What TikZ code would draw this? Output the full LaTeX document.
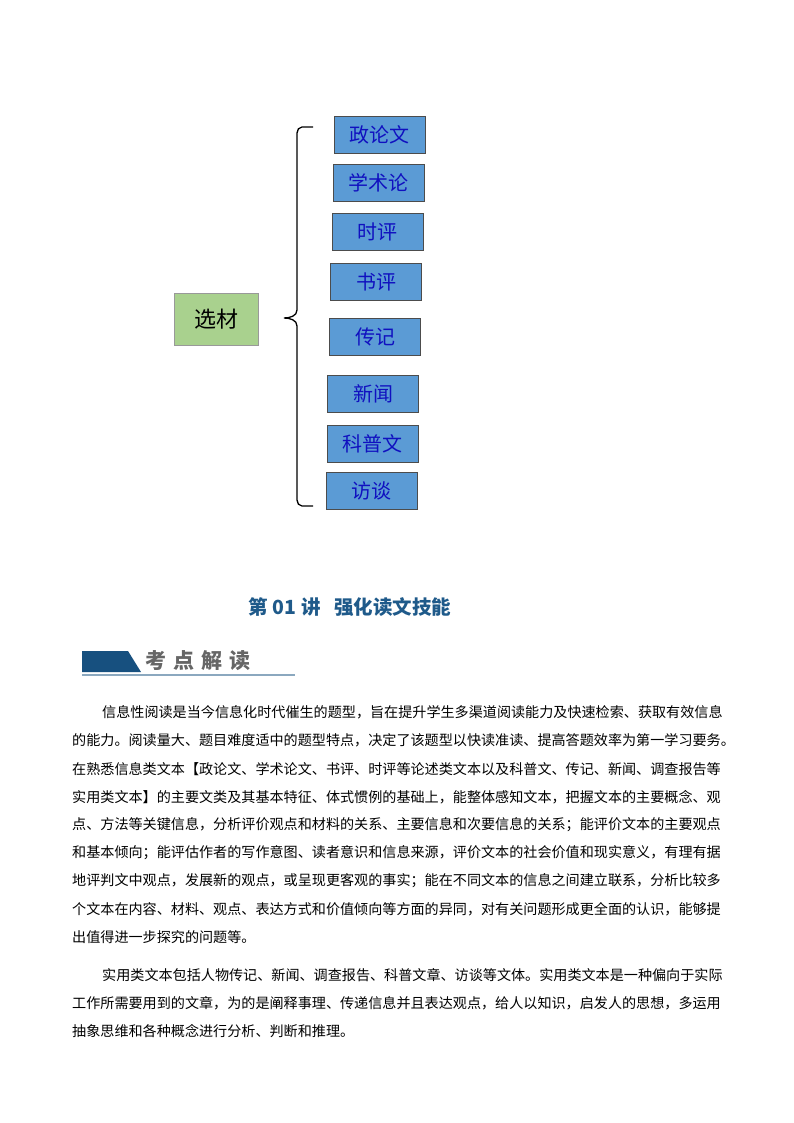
\documentclass[tikz,border=0pt]{standalone}
\usepackage{fontspec}
\newfontfamily\cjk{Noto Sans CJK SC}
\definecolor{boxblue}{HTML}{5B9BD5}
\definecolor{boxtext}{HTML}{1010C0}
\definecolor{greenbox}{HTML}{A9D18E}
\definecolor{titleblue}{HTML}{1F5A8A}
\definecolor{bannerblue}{HTML}{17507F}
\tikzset{
  cat/.style={draw=black!70, fill=boxblue, minimum width=91pt, minimum height=37pt, inner sep=0pt, font=\cjk\fontsize{20}{20}\selectfont, text=boxtext},
  body/.style={anchor=west, inner sep=0pt, font=\cjk\fontsize{14.1}{14}\selectfont}
}
\begin{document}
\begin{tikzpicture}[x=1pt,y=-1pt]
\useasboundingbox (0,0) rectangle (794,1123);
\node[draw=black!40, fill=greenbox, minimum width=84pt, minimum height=52pt, inner sep=0pt, font=\cjk\fontsize{22}{22}\selectfont] (xc) at (216,319) {选材};
\node[cat] (c1) at (379.5,134.5) {政论文};
\node[cat] (c2) at (378.5,182.5) {学术论};
\node[cat] (c3) at (377.5,231.5) {时评};
\node[cat] (c4) at (376,281.5) {书评};
\node[cat] (c5) at (375,336.5) {传记};
\node[cat] (c6) at (373,393.5) {新闻};
\node[cat] (c7) at (372.5,443.5) {科普文};
\node[cat] (c8) at (371.5,491) {访谈};
\coordinate (bt) at (313,127);
\coordinate (bb) at (313,506);
\coordinate (bm) at (284,318);
\draw[line width=1.3pt] (bt) -- (302,127) to[out=180,in=90] (297,133) -- (297,310) to[out=-90,in=0] (bm) to[out=0,in=90] (297,326) -- (297,500) to[out=-90,in=180] (302,506) -- (bb);
\node[font=\cjk\bfseries\fontsize{19.5}{20}\selectfont, text=titleblue] (title) at (350,607) {第\ 01\ 讲\ \ \ 强化读文技能};
\fill[bannerblue] (82,651) -- (128,651) -- (141,672) -- (82,672) -- cycle;
\draw[line width=1.5pt, bannerblue!50] (82,675) -- (295,675);
\node[anchor=west, inner sep=0pt, text=gray!80!black, font=\cjk\bfseries\fontsize{21}{21}\selectfont] (kd) at (145,661) {考\,\,点\,\,解\,\,读};
\node[body] (l1) at (102,712) {信息性阅读是当今信息化时代催生的题型，旨在提升学生多渠道阅读能力及快速检索、获取有效信息};
\node[body] (l2) at (72,740) {的能力。阅读量大、题目难度适中的题型特点，决定了该题型以快读准读、提高答题效率为第一学习要务。};
\node[body] (l3) at (72,769) {在熟悉信息类文本【政论文、学术论文、书评、时评等论述类文本以及科普文、传记、新闻、调查报告等};
\node[body] (l4) at (72,797) {实用类文本】的主要文类及其基本特征、体式惯例的基础上，能整体感知文本，把握文本的主要概念、观};
\node[body] (l5) at (72,825) {点、方法等关键信息，分析评价观点和材料的关系、主要信息和次要信息的关系；能评价文本的主要观点};
\node[body] (l6) at (72,853) {和基本倾向；能评估作者的写作意图、读者意识和信息来源，评价文本的社会价值和现实意义，有理有据};
\node[body] (l7) at (72,881) {地评判文中观点，发展新的观点，或呈现更客观的事实；能在不同文本的信息之间建立联系，分析比较多};
\node[body] (l8) at (72,909) {个文本在内容、材料、观点、表达方式和价值倾向等方面的异同，对有关问题形成更全面的认识，能够提};
\node[body] (l9) at (72,937) {出值得进一步探究的问题等。};
\node[body] (m1) at (102,975) {实用类文本包括人物传记、新闻、调查报告、科普文章、访谈等文体。实用类文本是一种偏向于实际};
\node[body] (m2) at (72,1003) {工作所需要用到的文章，为的是阐释事理、传递信息并且表达观点，给人以知识，启发人的思想，多运用};
\node[body] (m3) at (72,1031) {抽象思维和各种概念进行分析、判断和推理。};
\end{tikzpicture}
\end{document}
